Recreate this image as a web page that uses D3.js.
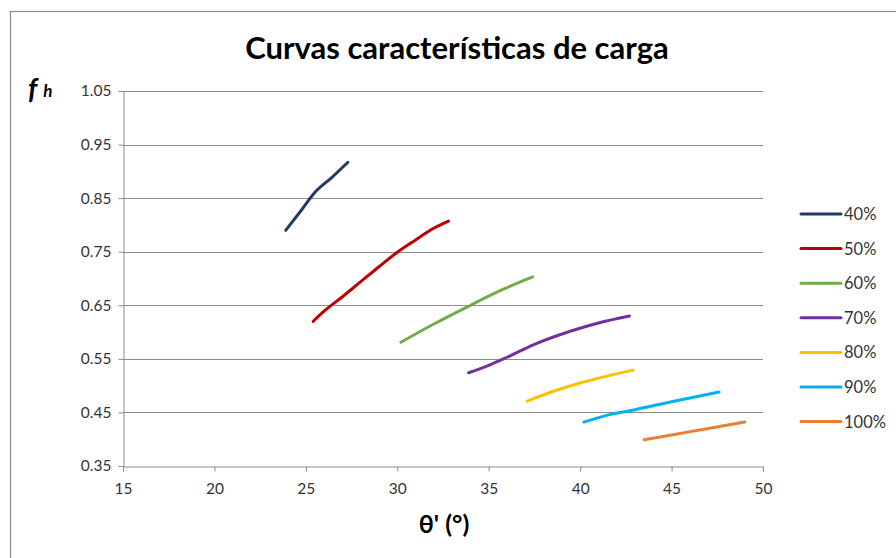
<!DOCTYPE html>
<html>
<head>
<meta charset="utf-8">
<script src="https://cdn.jsdelivr.net/npm/d3@7"></script>
<style>
  body { margin: 0; background: #fff; }
  text { font-family: Lato, "Open Sans", sans-serif; }
</style>
</head>
<body>
<div class="chart"></div>
<script>
// series names and colours
const seriesNames = ["40%", "50%", "60%", "70%", "80%", "90%", "100%"];
const seriesColors = ["#1F3864", "#C00000", "#70AD47", "#7030A0", "#FFC000", "#00B0F0", "#ED7D31"];

// theta' values (x) per series
const theta40 = [23.9, 24.7, 25.5, 26.4, 27.3];
const theta50 = [25.4, 26.0, 27.0, 28.0, 29.0, 30.0, 31.0, 31.8, 32.8];
const theta60 = [30.2, 32.0, 34.0, 35.8, 37.4];
const theta70 = [33.9, 35.0, 36.0, 37.5, 39.5, 41.0, 42.7];
const theta80 = [37.1, 38.5, 40.0, 41.0, 42.9];
const theta90 = [40.2, 41.5, 43.0, 45.0, 47.6];
const theta100 = [43.5, 45.0, 47.0, 49.0];

// fh values (y) per series
const fh40 = [0.79, 0.825, 0.861, 0.888, 0.917];
const fh50 = [0.62, 0.639, 0.666, 0.694, 0.722, 0.749, 0.772, 0.79, 0.807];
const fh60 = [0.581, 0.615, 0.65, 0.68, 0.703];
const fh70 = [0.524, 0.538, 0.553, 0.577, 0.602, 0.617, 0.63];
const fh80 = [0.471, 0.489, 0.505, 0.514, 0.529];
const fh90 = [0.432, 0.445, 0.455, 0.47, 0.488];
const fh100 = [0.399, 0.408, 0.42, 0.432];

const xTicks = [15, 20, 25, 30, 35, 40, 45, 50];
const yTicks = [0.35, 0.45, 0.55, 0.65, 0.75, 0.85, 0.95, 1.05];

const thetas = [theta40, theta50, theta60, theta70, theta80, theta90, theta100];
const fhs = [fh40, fh50, fh60, fh70, fh80, fh90, fh100];

const series = seriesNames.map(function (name, i) {
    return {
        name: name,
        color: seriesColors[i],
        points: thetas[i].map(function (t, j) { return { x: t, y: fhs[i][j] }; })
    };
});

const width = 896, height = 558;
const plot = { left: 123, right: 763, top: 91, bottom: 466 };

const svg = d3.select('div.chart')
    .append('svg')
    .attr('width', width)
    .attr('height', height);

// outer frame (runs off the picture at right and bottom)
svg.append('rect')
    .attr('x', 10.5).attr('y', 11.5)
    .attr('width', 900).attr('height', 600)
    .attr('fill', 'none')
    .attr('stroke', '#898989')
    .attr('stroke-width', 1.2);

const x = d3.scaleLinear().domain([15, 50]).range([plot.left, plot.right]);
const y = d3.scaleLinear().domain([0.35, 1.05]).range([plot.bottom, plot.top]);

// gridlines
svg.append('g')
    .selectAll('line')
    .data(yTicks.slice(1))
    .enter()
    .append('line')
    .attr('x1', plot.left).attr('x2', plot.right)
    .attr('y1', function (d) { return Math.round(y(d)) + 0.5; })
    .attr('y2', function (d) { return Math.round(y(d)) + 0.5; })
    .attr('stroke', '#8c8c8c')
    .attr('stroke-width', 1);

// y axis
const yAxis = svg.append('g')
    .attr('transform', 'translate(' + (plot.left + 0.5) + ',0)')
    .call(d3.axisLeft(y).tickValues(yTicks).tickSize(5).tickPadding(7)
        .tickFormat(d3.format('.2f')));

// x axis
const xAxis = svg.append('g')
    .attr('transform', 'translate(0,' + (plot.bottom + 0.5) + ')')
    .call(d3.axisBottom(x).tickValues(xTicks).tickSize(5).tickPadding(11)
        .tickFormat(d3.format('d')));

[yAxis, xAxis].forEach(function (ax) {
    ax.select('.domain').attr('stroke', '#8c8c8c');
    ax.selectAll('.tick line').attr('stroke', '#8c8c8c');
    ax.selectAll('.tick text')
        .attr('fill', '#333')
        .style('font-size', '15.5px')
        .style('font-family', 'Lato, sans-serif');
});

// lines
const line = d3.line()
    .x(function (d) { return x(d.x); })
    .y(function (d) { return y(d.y); })
    .curve(d3.curveMonotoneX);

svg.append('g')
    .selectAll('path')
    .data(series)
    .enter()
    .append('path')
    .attr('d', function (d) { return line(d.points); })
    .attr('fill', 'none')
    .attr('stroke', function (d) { return d.color; })
    .attr('stroke-width', 3)
    .attr('stroke-linecap', 'round')
    .attr('stroke-linejoin', 'round');

// legend
const legend = svg.append('g')
    .selectAll('g')
    .data(series)
    .enter()
    .append('g')
    .attr('transform', function (d, i) { return 'translate(801,' + (214 + i * 34.6) + ')'; });

legend.append('line')
    .attr('x1', 0).attr('x2', 40)
    .attr('stroke', function (d) { return d.color; })
    .attr('stroke-width', 3)
    .attr('stroke-linecap', 'round');

legend.append('text')
    .attr('x', 43)
    .attr('dy', '0.36em')
    .attr('fill', '#333')
    .style('font-size', '16.5px')
    .text(function (d) { return d.name; });

// title
svg.append('text')
    .attr('x', 457)
    .attr('y', 59)
    .attr('text-anchor', 'middle')
    .style('font-size', '31px')
    .style('font-weight', 'bold')
    .attr('fill', '#000')
    .text('Curvas características de carga');

// y label
const yl = svg.append('text')
    .attr('x', 28)
    .attr('y', 99)
    .style('font-weight', 'bold')
    .style('font-style', 'italic')
    .attr('fill', '#000');
yl.append('tspan').style('font-size', '28px').text('f');
yl.append('tspan').attr('dx', 6).attr('dy', -2).style('font-size', '17px').text('h');

// x label
svg.append('text')
    .attr('x', 444)
    .attr('y', 533)
    .attr('text-anchor', 'middle')
    .style('font-size', '25px')
    .style('font-weight', 'bold')
    .attr('fill', '#000')
    .text("θ' (°)");
</script>
</body>
</html>
